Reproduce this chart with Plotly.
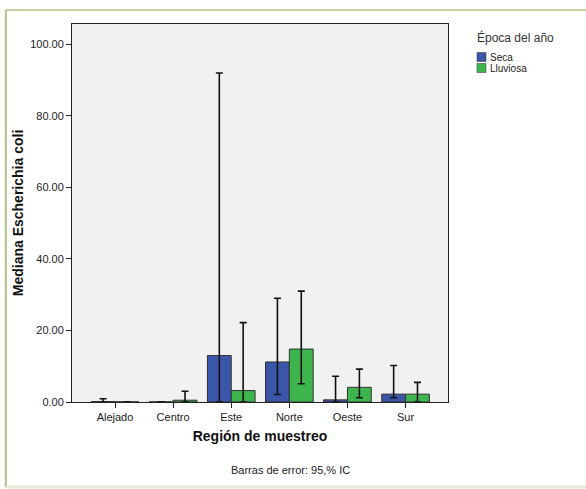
import plotly.graph_objects as go

categories = ["Alejado", "Centro", "Este", "Norte", "Oeste", "Sur"]
seca = [0.1, 0.05, 13.0, 11.2, 0.6, 2.2]
seca_upper = [0.9, 0.05, 92.0, 29.0, 7.2, 10.2]
seca_lower = [0.0, 0.0, 0.0, 2.1, 0.0, 1.2]
lluviosa = [0.05, 0.5, 3.2, 14.8, 4.1, 2.2]
lluviosa_upper = [0.05, 3.0, 22.2, 31.0, 9.2, 5.5]
lluviosa_lower = [0.0, 0.0, 0.0, 5.1, 1.2, 0.0]
series_names = ["Seca", "Lluviosa"]
series_colors = ["#3B55A8", "#3DB54C"]
legend_title = "Época del año"

FONT = "Liberation Sans, Arial, sans-serif"

def err(vals, up, lo):
    return dict(type="data", symmetric=False,
                array=[u - v for u, v in zip(up, vals)],
                arrayminus=[v - l for v, l in zip(vals, lo)],
                color="#111111", thickness=1.6, width=3.5)

fig = go.Figure()
fig.add_trace(go.Bar(name=series_names[0], x=categories, y=seca,
                     marker=dict(color=series_colors[0], line=dict(color="#333333", width=1)),
                     error_y=err(seca, seca_upper, seca_lower)))
fig.add_trace(go.Bar(name=series_names[1], x=categories, y=lluviosa,
                     marker=dict(color=series_colors[1], line=dict(color="#333333", width=1)),
                     error_y=err(lluviosa, lluviosa_upper, lluviosa_lower)))

axis_font = dict(family=FONT, size=11, color="#222222")

# plot area in pixels: x 72..448, y 24..402
L, R, T, B = 72, 448, 24, 402
def px(x):
    return (x - L) / (R - L)
def py(y):
    return (B - y) / (B - T)

annotations = [
    dict(text="Barras de error: 95,% IC", x=0.58, y=-0.18,
         xref="paper", yref="paper", showarrow=False,
         xanchor="center", yanchor="middle",
         font=dict(size=11, color="#222222", family=FONT)),
    dict(text=legend_title, x=px(515), y=py(37), xref="paper", yref="paper",
         showarrow=False, xanchor="center", yanchor="middle",
         font=dict(size=12, color="#333333", family=FONT)),
]
shapes = [
    dict(type="line", xref="paper", yref="paper", x0=-0.176, x1=1.37, y0=1.037, y1=1.037,
         line=dict(color="#B3BF86", width=1.5)),
    dict(type="line", xref="paper", yref="paper", x0=-0.176, x1=-0.176, y0=1.037, y1=-0.225,
         line=dict(color="#B3BF86", width=2)),
    dict(type="line", xref="paper", yref="paper", x0=-0.176, x1=1.37, y0=-0.225, y1=-0.225,
         line=dict(color="#E6EAD6", width=3)),
]
for i, (name, col) in enumerate(zip(series_names, series_colors)):
    yc = 57 + 11 * i
    shapes.append(dict(type="rect", xref="paper", yref="paper",
                       x0=px(477), x1=px(486), y0=py(yc - 4.5), y1=py(yc + 4.5),
                       fillcolor=col, line=dict(color="#333333", width=0.5)))
    annotations.append(dict(text=name, x=px(487.5), y=py(yc), xref="paper", yref="paper",
                            showarrow=False, xanchor="left", yanchor="middle",
                            font=dict(size=10, color="#222222", family=FONT)))

fig.update_layout(
    width=586, height=489,
    margin=dict(l=L, r=586 - R, t=T, b=489 - B),
    paper_bgcolor="white", plot_bgcolor="#F0F1F0",
    barmode="group", bargap=0.18, bargroupgap=0,
    showlegend=False,
    font=dict(family=FONT, size=10, color="#222222"),
    xaxis=dict(range=[-0.74, 5.73], showline=True, linecolor="#222222", linewidth=1,
               mirror=True, ticks="outside", ticklen=5, tickcolor="#222222",
               tickfont=axis_font, showgrid=False,
               title=dict(text="<b>Región de muestreo</b>",
                          font=dict(size=14, family=FONT, color="#111111"),
                          standoff=8)),
    yaxis=dict(range=[0, 105.7], showline=True, linecolor="#222222", linewidth=1,
               mirror=True, ticks="outside", ticklen=5, tickcolor="#222222",
               tickvals=[0, 20, 40, 60, 80, 100], tickformat=".2f",
               tickfont=axis_font, showgrid=False, zeroline=False,
               title=dict(text="<b>Mediana Escherichia coli</b>",
                          font=dict(size=14, family=FONT, color="#111111"),
                          standoff=3)),
    annotations=annotations,
    shapes=shapes,
)

fig.write_html("out.html")
